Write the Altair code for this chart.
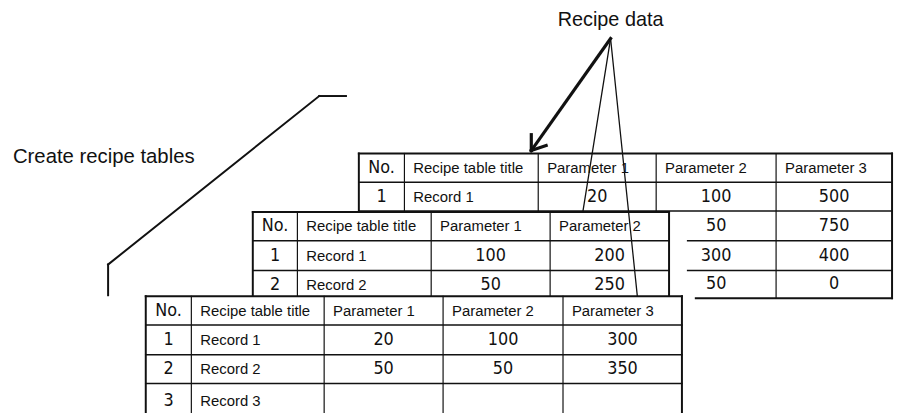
import altair as alt
import pandas as pd

# ---------------- data (text content of the diagram) ----------------
HEADERS = ["No.", "Recipe table title", "Parameter 1", "Parameter 2", "Parameter 3"]

# back table: rows 2-4 are hidden behind the middle table except Parameter 2/3
A_NO = ["1", "", "", ""]
A_TITLE = ["Record 1", "", "", ""]
A_P1 = ["20", "", "", ""]
A_P2 = ["100", "50", "300", "50"]
A_P3 = ["500", "750", "400", "0"]

B_NO = ["1", "2"]
B_TITLE = ["Record 1", "Record 2"]
B_P1 = ["100", "50"]
B_P2 = ["200", "250"]

C_NO = ["1", "2", "3"]
C_TITLE = ["Record 1", "Record 2", "Record 3"]
C_P1 = ["20", "50", ""]
C_P2 = ["100", "50", ""]
C_P3 = ["300", "350", ""]

LABEL_TABLES = "Create recipe tables"
LABEL_DATA = "Recipe data"

# ---------------- layout (pixel positions in the 905x413 picture) ----------------
TABLE_A = dict(cols=[362, 408, 543, 662, 783, 900], rows=[153, 182, 211, 241, 271, 299], closed=True)
TABLE_B = dict(cols=[255, 300, 435, 555, 675], rows=[212, 241, 271, 300], closed=True,
               box=dict(x=255, x2=693, y=212, y2=297))
TABLE_C = dict(cols=[147, 193, 327, 447, 568, 688], rows=[297, 326, 356, 385, 420], closed=False,
               box=dict(x=147, x2=701, y=297, y2=420))

APEX = (616, 37)
THIN_TARGETS = [(588, 212), (643, 297)]
THICK_TIP = (536, 150)
BARBS = [(536, 134), (551, 145)]
LEFT_PATH = [(349, 95), (322, 95), (109, 265), (109, 296)]

SANS = "Liberation Sans, Arial, Helvetica, sans-serif"
NARROW = "Liberation Sans Narrow, DejaVu Sans Condensed, Arial Narrow, sans-serif"

X = lambda: alt.X("x:Q", scale=alt.Scale(domain=[8, 905], nice=False, zero=False), axis=None)
Y = lambda: alt.Y("y:Q", scale=alt.Scale(domain=[8, 413], nice=False, zero=False, reverse=True), axis=None)


def grid_df(cols, rows, closed):
    segs = []
    top, bottom = rows[0], rows[-1]
    left, right = cols[0], cols[-1]
    for i, r in enumerate(rows):
        if i == len(rows) - 1 and not closed:
            continue
        outer = i in (0, len(rows) - 1)
        segs.append(dict(x=left, x2=right, y=r, y2=r, w=2.0 if outer else 1.6))
    for j, c in enumerate(cols):
        outer = j in (0, len(cols) - 1)
        segs.append(dict(x=c, x2=c, y=top, y2=bottom, w=2.0 if outer else 1.2))
    return pd.DataFrame(segs)


def cell_dfs(cols, rows, header, body):
    lab, num = [], []
    for i, row in enumerate([header] + body):
        yc = (rows[i] + rows[i + 1]) / 2
        for j, t in enumerate(row):
            if t == "":
                continue
            if j == 0 or (j >= 2 and i > 0):
                num.append(dict(x=(cols[j] + cols[j + 1]) / 2, y=yc, t=t))
            else:
                lab.append(dict(x=cols[j] + 9, y=yc, t=t))
    return pd.DataFrame(lab), pd.DataFrame(num)


def rules(df, color="#111111"):
    return alt.Chart(df).mark_rule(color=color, strokeCap="square").encode(
        x=X(), x2="x2:Q", y=Y(), y2="y2:Q",
        strokeWidth=alt.StrokeWidth("w:Q", scale=None, legend=None),
    )


def table_layers(spec, header, body):
    layers = []
    if "box" in spec:
        layers.append(
            alt.Chart(pd.DataFrame([spec["box"]])).mark_rect(fill="white")
            .encode(x=X(), x2="x2:Q", y=Y(), y2="y2:Q")
        )
    layers.append(rules(grid_df(spec["cols"], spec["rows"], spec["closed"])))
    lab, num = cell_dfs(spec["cols"], spec["rows"], header, body)
    layers.append(
        alt.Chart(lab).mark_text(align="left", baseline="middle", font=SANS, fontSize=15, color="#111111")
        .encode(x=X(), y=Y(), text="t:N")
    )
    layers.append(
        alt.Chart(num).mark_text(align="center", baseline="middle", font=NARROW, fontSize=18, color="#111111")
        .encode(x=X(), y=Y(), text="t:N")
    )
    return layers


body_a = [list(r) for r in zip(A_NO, A_TITLE, A_P1, A_P2, A_P3)]
body_b = [list(r) for r in zip(B_NO, B_TITLE, B_P1, B_P2)]
body_c = [list(r) for r in zip(C_NO, C_TITLE, C_P1, C_P2, C_P3)]

layers = []
layers += table_layers(TABLE_A, HEADERS, body_a)
layers += table_layers(TABLE_B, HEADERS[:4], body_b)
layers += table_layers(TABLE_C, HEADERS, body_c)

# connectors
thin = pd.DataFrame([dict(x=APEX[0], y=APEX[1], x2=tx, y2=ty, w=1.3) for tx, ty in THIN_TARGETS])
thick = pd.DataFrame(
    [dict(x=APEX[0], y=APEX[1], x2=THICK_TIP[0], y2=THICK_TIP[1], w=3.2)]
    + [dict(x=THICK_TIP[0], y=THICK_TIP[1], x2=bx, y2=by, w=3.2) for bx, by in BARBS]
)
left = pd.DataFrame([
    dict(x=a[0], y=a[1], x2=b[0], y2=b[1], w=2.0) for a, b in zip(LEFT_PATH[:-1], LEFT_PATH[1:])
])
layers.append(rules(thin))
layers.append(rules(thick))
layers.append(rules(left))

labels = pd.DataFrame([dict(x=616, y=18, t=LABEL_DATA)])
labels2 = pd.DataFrame([dict(x=13, y=157, t=LABEL_TABLES)])
layers.append(
    alt.Chart(labels).mark_text(align="center", baseline="middle", font=SANS, fontSize=20, color="#111111")
    .encode(x=X(), y=Y(), text="t:N")
)
layers.append(
    alt.Chart(labels2).mark_text(align="left", baseline="middle", font=SANS, fontSize=20.5, color="#111111")
    .encode(x=X(), y=Y(), text="t:N")
)

chart = (
    alt.layer(*layers)
    .properties(width=897, height=405, padding=0, autosize=alt.AutoSizeParams(type="none"),
                background="white")
    .configure_view(stroke=None)
)

chart.save("out.html", embed_options={"renderer": "svg", "actions": False})
